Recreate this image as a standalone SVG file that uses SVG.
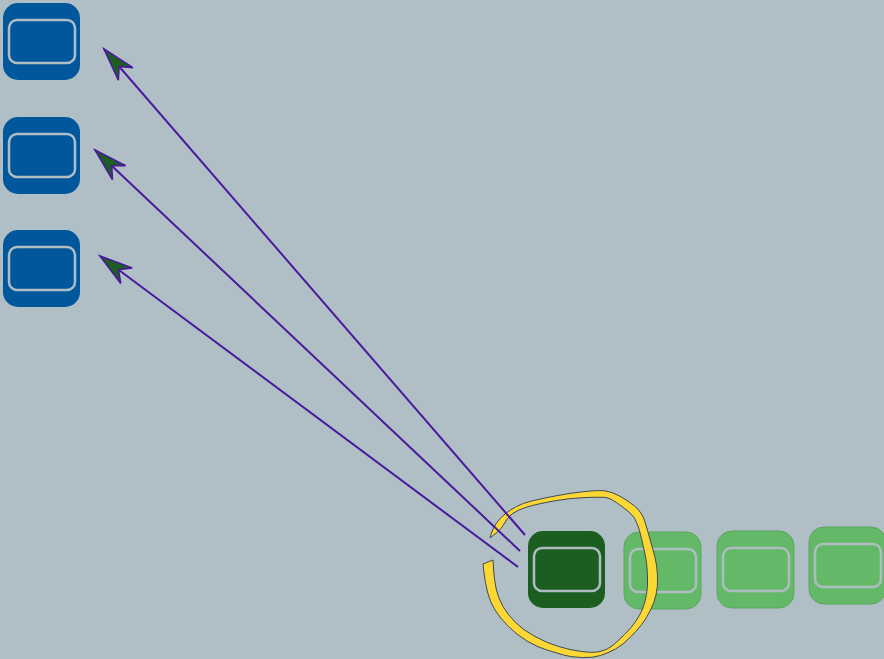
<svg xmlns="http://www.w3.org/2000/svg" width="884" height="659" viewBox="0 0 884 659">
  <defs>
    <style>
      .blue { fill: #01579b; }
      .dark { fill: #1b5e20; }
      .light { fill: #64b968; stroke: #5aa75e; stroke-width: 1; }
      .inner { fill: none; stroke: #b0bcc4; stroke-width: 2.5; }
      .edge { fill: none; stroke: #4a1a9c; stroke-width: 2; marker-end: url(#arrow); }
      .lasso { fill: #fdd835; stroke: #3f4a50; stroke-width: 1; stroke-linejoin: round; }
    </style>
    <marker id="arrow" markerUnits="userSpaceOnUse" markerWidth="40" markerHeight="30" refX="33" refY="0" orient="auto" overflow="visible">
      <path d="M0,-9.6 L33,0 L0,9.6 L10,0 Z" fill="#1b5e20" stroke="#4a1a9c" stroke-width="1.6" stroke-linejoin="miter"/>
    </marker>
  </defs>
  <rect width="884" height="659" fill="#b0bec5"/>

  <g id="node-b1" transform="translate(3,3)">
    <rect class="blue" width="77" height="77" rx="15"/>
    <rect class="inner" x="6" y="17" width="66" height="43" rx="8"/>
  </g>
  <g id="node-b2" transform="translate(3,117)">
    <rect class="blue" width="77" height="77" rx="15"/>
    <rect class="inner" x="6" y="17" width="66" height="43" rx="8"/>
  </g>
  <g id="node-b3" transform="translate(3,230)">
    <rect class="blue" width="77" height="77" rx="15"/>
    <rect class="inner" x="6" y="17" width="66" height="43" rx="8"/>
  </g>
  <g id="node-g0" transform="translate(528,531)">
    <rect class="dark" width="77" height="77" rx="15"/>
    <rect class="inner" x="6" y="17" width="66" height="43" rx="8"/>
  </g>
  <g id="node-g1" transform="translate(624,532)">
    <rect class="light" width="77" height="77" rx="15"/>
    <rect class="inner" x="6" y="17" width="66" height="43" rx="8"/>
  </g>
  <g id="node-g2" transform="translate(717,531)">
    <rect class="light" width="77" height="77" rx="15"/>
    <rect class="inner" x="6" y="17" width="66" height="43" rx="8"/>
  </g>
  <g id="node-g3" transform="translate(809,527)">
    <rect class="light" width="77" height="77" rx="15"/>
    <rect class="inner" x="6" y="17" width="66" height="43" rx="8"/>
  </g>

  <g id="lasso">
    <path class="lasso" d="M490,538 L491.5,533 Q493,528 496.5,523 Q500,518 505,514 Q510,510 516.5,506.5 Q523,503 531.5,501 Q540,499 555,496 Q570,493 585,491.5 Q600,490 606,491 Q612,492 619.5,496 Q627,500 634.5,506 Q642,512 645,522 Q648,532 650.5,541 Q653,550 655,557.5 Q657,565 657.5,576 Q658,587 656,595 Q654,603 650.5,610 Q647,617 643.5,622 Q640,627 631.5,636 Q623,645 615.5,649 Q608,653 600.5,655.5 Q593,658 581.5,657.5 Q570,657 563.5,655 Q557,653 547,650 Q537,647 527,641 Q517,635 508.5,626.5 Q500,618 495,610 Q490,602 487.5,592 Q485,582 484,573 L483,564 L493,560 L493.5,569 Q494,578 496,588 Q498,598 503,606.5 Q508,615 515.5,622.5 Q523,630 535,636.5 Q547,643 558.5,646.5 Q570,650 581.5,651.5 Q593,653 600,651.5 Q607,650 612,646 Q617,642 624.5,634.5 Q632,627 636,621 Q640,615 642.5,609 Q645,603 646.5,594.5 Q648,586 647.5,574.5 Q647,563 645,554 Q643,545 641.5,538.5 Q640,532 637.5,524.5 Q635,517 629,512 Q623,507 616.5,502.5 Q610,498 606,497.5 Q602,497 586,497.5 Q570,498 553.5,501 Q537,504 527,507 Q517,510 512,514 Q507,518 504,524 Q501,530 495,534 Z"/>
  </g>

  <g id="connectors">
    <path class="edge" d="M525,535 L104,49"/>
    <path class="edge" d="M520,551 L95,150"/>
    <path class="edge" d="M518,567 L100,256"/>
  </g>
</svg>
